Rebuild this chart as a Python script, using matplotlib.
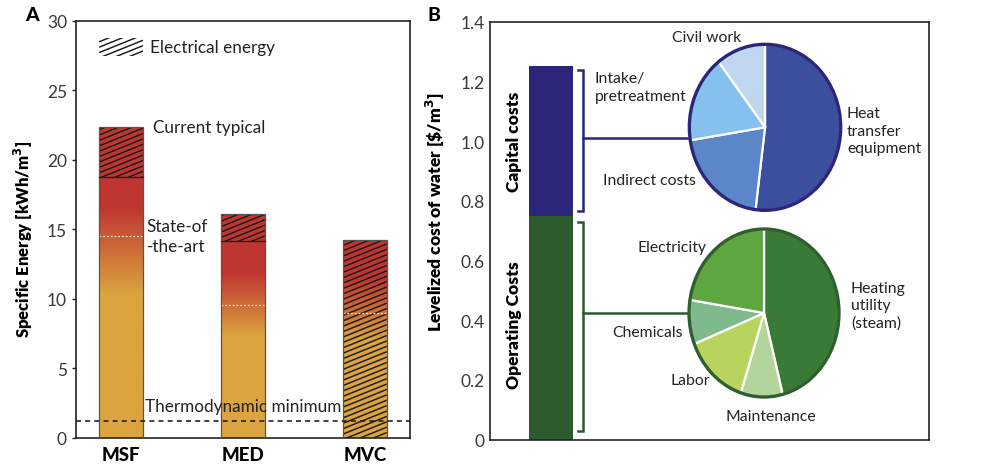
import numpy as np
import matplotlib
matplotlib.use("Agg")
import matplotlib.pyplot as plt
from matplotlib.colors import LinearSegmentedColormap
from matplotlib.patches import Rectangle, Circle

plt.rcParams["font.family"] = ["Lato", "DejaVu Sans"]

# ---- panel A data ----
processes = ["MSF", "MED", "MVC"]
total_energy = [22.4, 16.1, 14.25]        # current typical, kWh/m3
thermal_top = [18.8, 14.15, 0.0]          # top of thermal part (electrical above)
state_of_art = [14.5, 9.6, 9.0]
grad_lo = [10.3, 7.3, 7.0]                # gradient: orange below
grad_hi = [16.6, 11.9, 11.4]              # gradient: red above
thermo_min = 1.25

# ---- panel B data ----
capital_cost = 0.5
operating_cost = 0.75
cap_labels = ["Heat\ntransfer\nequipment", "Indirect costs", "Intake/\npretreatment", "Civil work"]
cap_shares = [52, 20.5, 17, 10.5]
op_labels = ["Heating\nutility\n(steam)", "Maintenance", "Labor", "Chemicals", "Electricity"]
op_shares = [46, 9, 14, 8.5, 22.5]
b_ticks = [0, 0.2, 0.4, 0.6, 0.8, 1.0, 1.2, 1.4]
b_ticklabels = ["0", "0.2", "0.4", "0.6", "0.8", "1.0", "1.2", "1.4"]

ORANGE = "#DCA43F"
RED = "#BF3530"
cmap = LinearSegmentedColormap.from_list("heat", [ORANGE, RED])
NAVY = "#2B2679"
DKGREEN = "#2C5A2D"

fig = plt.figure(figsize=(9.88, 4.77), dpi=100)
ax_a = fig.add_axes([0.0769, 0.0797, 0.338, 0.8742])
ax_b = fig.add_axes([0.496, 0.0761, 0.4443, 0.8763])


def hatch_patch(ax, patch, spacing=5.0, angle=22, lw=1.05):
    # draw slanted hatch lines in display space, clipped to the patch
    fig.canvas.draw()
    bb = patch.get_window_extent()
    t = np.tan(np.radians(angle))
    step = spacing / np.cos(np.radians(angle))
    x0, x1, y0, y1 = bb.x0, bb.x1, bb.y0, bb.y1
    inv = ax.transData.inverted()
    c = y0 - t * (x1 - x0) - step
    while c < y1 + step:
        pts = inv.transform([(x0, c), (x1, c + t * (x1 - x0))])
        ln, = ax.plot(pts[:, 0], pts[:, 1], color="#1a1a1a", lw=lw, solid_capstyle="butt")
        ln.set_clip_path(patch)
        c += step


# ---------------- Panel A ----------------
x = np.arange(len(processes))
width = 0.36
ax_a.set_xlim(-0.37, 2.37)
ax_a.set_ylim(0, 30)

yy = np.linspace(0, 30, 600)
for i in range(len(processes)):
    rect = Rectangle((x[i] - width / 2, 0), width, total_energy[i],
                     facecolor="none", edgecolor="#555555", lw=0.9, zorder=3)
    ax_a.add_patch(rect)
    vals = np.clip((yy - grad_lo[i]) / (grad_hi[i] - grad_lo[i]), 0, 1)[:, None]
    im = ax_a.imshow(vals, cmap=cmap, vmin=0, vmax=1, origin="lower", aspect="auto",
                     extent=(x[i] - width / 2, x[i] + width / 2, 0, 30), zorder=1,
                     interpolation="bilinear")
    im.set_clip_path(rect)
    ax_a.plot([x[i] - width / 2, x[i] + width / 2], [state_of_art[i]] * 2,
              color="#F3E3D3", lw=0.9, ls=(0, (1.5, 1.5)), zorder=2.5)

ax_a.set_aspect("auto")
ax_a.set_xlim(-0.37, 2.37)
ax_a.set_ylim(0, 30)

for i in range(len(processes)):
    elec = Rectangle((x[i] - width / 2, thermal_top[i]), width,
                     total_energy[i] - thermal_top[i], facecolor="none",
                     edgecolor="none", zorder=2)
    ax_a.add_patch(elec)
    hatch_patch(ax_a, elec)
    if thermal_top[i] > 0:
        ax_a.plot([x[i] - width / 2, x[i] + width / 2], [thermal_top[i]] * 2,
                  color="#222222", lw=1.0, zorder=3)

leg = Rectangle((x[0] - width / 2, 27.45), width, 1.35, facecolor="none", edgecolor="none")
ax_a.add_patch(leg)
hatch_patch(ax_a, leg)
txt_kw = dict(fontsize=12.3, va="center", ha="left", color="#222222")
ax_a.text(0.24, 28.1, "Electrical energy", **txt_kw)
ax_a.text(0.26, 22.35, "Current typical", **txt_kw)
ax_a.text(0.21, 14.5, "State-of\n-the-art", linespacing=1.3, **txt_kw)
ax_a.axhline(thermo_min, color="#222222", lw=1.2, ls=(0, (3, 2.5)), zorder=4)
ax_a.text(0.2, thermo_min + 1.05, "Thermodynamic minimum", **txt_kw)

ax_a.set_xticks(x)
ax_a.set_xticklabels(processes, fontsize=13.5, fontweight="black")
ax_a.tick_params(axis="x", length=0, pad=6)
ax_a.set_yticks([0, 5, 10, 15, 20, 25, 30])
ax_a.tick_params(axis="y", labelsize=12.5, length=3, width=1, colors="#222222", labelcolor="#3a3a3a")
ax_a.set_ylabel("Specific Energy [kWh/m$^\\mathbf{3}$]", fontsize=12, fontweight="heavy")
ax_a.yaxis.set_label_coords(-0.123, 0.48)
for s in ax_a.spines.values():
    s.set_linewidth(1.2)
    s.set_color("#222222")

# ---------------- Panel B ----------------
ax_b.set_xlim(0, 1)
ax_b.set_ylim(0, 1.4)
bx, bw = 0.139, 0.100
ax_b.bar(bx, operating_cost, width=bw, color=DKGREEN)
ax_b.bar(bx, capital_cost, width=bw, bottom=operating_cost, color=NAVY)
ax_b.text(0.055, operating_cost + capital_cost / 2, "Capital costs", rotation=90, fontsize=12.5,
          fontweight="heavy", ha="center", va="center")
ax_b.text(0.055, 0.387, "Operating Costs", rotation=90, fontsize=12.5,
          fontweight="heavy", ha="center", va="center")

# brackets and connectors
for (ylo, yhi, yc, col) in [(0.765, 1.238, 1.010, NAVY), (0.028, 0.730, 0.426, DKGREEN)]:
    ax_b.plot([0.200, 0.211, 0.211, 0.200], [yhi, yhi, ylo, ylo], color=col, lw=1.8,
              solid_joinstyle="miter")
    ax_b.plot([0.211, 0.455], [yc, yc], color=col, lw=1.8)

ax_b.set_xticks([])
ax_b.set_yticks(b_ticks)
ax_b.set_yticklabels(b_ticklabels)
ax_b.tick_params(axis="y", labelsize=12.5, length=0, pad=4, labelcolor="#3a3a3a")
ax_b.set_ylabel("Levelized cost of water [\\$/m$^\\mathbf{3}$]", fontsize=12.5, fontweight="heavy")
ax_b.yaxis.set_label_coords(-0.0986, 0.547)
for s in ax_b.spines.values():
    s.set_linewidth(1.2)
    s.set_color("#222222")

label_kw = dict(fontsize=11.3, color="#222222", linespacing=1.3)
ax_b.text(0.494, 1.350, cap_labels[3], ha="center", va="center", **label_kw)
ax_b.text(0.239, 1.181, cap_labels[2], ha="left", va="center", **label_kw)
ax_b.text(0.364, 0.869, cap_labels[1], ha="center", va="center", **label_kw)
ax_b.text(0.813, 1.035, cap_labels[0], ha="left", va="center", **label_kw)
ax_b.text(0.415, 0.645, op_labels[4], ha="center", va="center", **label_kw)
ax_b.text(0.358, 0.362, op_labels[3], ha="center", va="center", **label_kw)
ax_b.text(0.456, 0.200, op_labels[2], ha="center", va="center", **label_kw)
ax_b.text(0.640, 0.079, op_labels[1], ha="center", va="center", **label_kw)
ax_b.text(0.822, 0.449, op_labels[0], ha="left", va="center", **label_kw)

# pies
pie_specs = [
    ([0.6977, 0.557, 0.1532, 0.348], cap_shares,
     ["#3C4F9D", "#5B86C9", "#86C0EF", "#C0D5EE"], NAVY),
    ([0.6974, 0.1656, 0.1518, 0.3522], op_shares,
     ["#3A7A37", "#B3D49B", "#B9D35F", "#7FB98D", "#5EA740"], "#2F5F2F"),
]
for pos, shares, cols, edge in pie_specs:
    pax = fig.add_axes(pos)
    pax.pie(shares, colors=cols, startangle=90, counterclock=False,
            wedgeprops=dict(edgecolor="white", linewidth=1.6))
    pax.set_aspect("auto")
    pax.set_xlim(-1, 1)
    pax.set_ylim(-1, 1)
    pax.add_patch(Circle((0, 0), 1, fill=False, edgecolor=edge, lw=2.4, clip_on=False))
    pax.axis("off")

fig.text(0.032, 0.968, "A", fontsize=14, fontweight="black", ha="center", va="center")
fig.text(0.439, 0.968, "B", fontsize=14, fontweight="black", ha="center", va="center")

fig.savefig("out.png", dpi=100)
